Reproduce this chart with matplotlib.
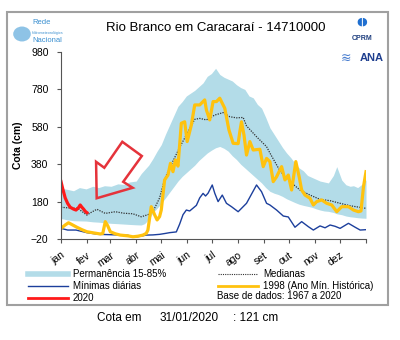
import matplotlib.pyplot as plt
from matplotlib.lines import Line2D
from matplotlib.patches import Polygon, Rectangle, Circle
import numpy as np

plt.rcParams['font.family'] = ['Liberation Sans', 'DejaVu Sans']

# ---- data (day of year, cota in cm) ----
band_days = [0, 8, 15, 22, 30, 38, 45, 52, 60, 68, 75, 82, 90, 96, 100, 105, 110, 115,
             120, 125, 130, 135, 140, 145, 150, 155, 160, 165, 170, 175, 180, 185, 190,
             195, 200, 205, 210, 215, 220, 225, 230, 235, 240, 245, 250, 255, 260, 265,
             270, 275, 280, 285, 290, 295, 300, 305, 310, 315, 320, 326, 330, 336, 341,
             346, 350, 355, 360, 365]
band_high = [252, 245, 238, 255, 248, 262, 255, 265, 262, 275, 272, 285, 290, 330, 350, 375,
             410, 450, 485, 540, 590, 640, 690, 715, 745, 760, 775, 795, 815, 850, 865, 893,
             860, 845, 835, 825, 805, 790, 780, 745, 735, 700, 680, 630, 575, 540, 505, 470,
             440, 415, 385, 360, 345, 320, 310, 300, 290, 285, 280, 320, 367, 295, 270,
             262, 265, 255, 272, 296]
band_low = [90, 82, 78, 77, 76, 72, 70, 67, 64, 62, 60, 58, 56, 55, 62, 85, 120, 145,
            170, 200, 230, 260, 290, 315, 335, 355, 375, 400, 420, 440, 455, 468, 475,
            465, 450, 425, 405, 380, 360, 340, 320, 300, 280, 255, 235, 225, 218, 208,
            195, 185, 175, 166, 160, 155, 150, 142, 135, 130, 128, 122, 115, 110, 103,
            99, 97, 94, 92, 91]

med_days = [0, 10, 20, 31, 37, 43, 53, 65, 75, 86, 96, 104, 110, 118, 124, 130, 142, 154,
            160, 166, 174, 184, 194, 202, 210, 218, 222, 234, 246, 250, 262, 274, 286,
            298, 310, 322, 334, 346, 365]
med_vals = [150, 146, 144, 108, 125, 139, 117, 126, 118, 115, 99, 110, 126, 200, 300, 360,
            470, 570, 620, 625, 617, 643, 656, 634, 628, 630, 585, 527, 474, 440, 345, 287,
            242, 215, 192, 185, 171, 158, 144]

min_days = [0, 8, 18, 31, 45, 60, 73, 80, 88, 95, 102, 110, 118, 125, 130, 138, 142, 146,
            150, 154, 158, 162, 166, 170, 173, 176, 181, 184, 188, 193, 198, 204, 212, 222,
            234, 240, 246, 250, 258, 266, 272, 280, 288, 296, 302, 310, 316, 322, 328, 334,
            344, 352, 358, 365]
min_vals = [37, 28, 28, 14, 5, 3, 1, 0, -11, -5, 1, 2, 5, 10, 14, 18, 60, 110,
            135, 130, 145, 160, 200, 224, 210, 225, 269, 225, 180, 215, 171, 153, 126, 171,
            269, 233, 171, 162, 135, 103, 98, 43, 73, 46, 28, 50, 40, 55, 48, 37,
            64, 43, 28, 30]

y98_days = [0, 5, 9, 14, 19, 25, 31, 40, 47, 50, 53, 56, 59, 65, 71, 80, 86, 92, 98, 102,
            104, 108, 112, 115, 118, 120, 124, 128, 131, 134, 137, 140, 144, 148, 151, 156,
            160, 166, 172, 174, 178, 182, 186, 190, 196, 201, 206, 212, 214, 216, 219, 222,
            226, 230, 238, 242, 246, 250, 254, 258, 264, 268, 272, 276, 281, 285, 288, 292,
            298, 302, 306, 312, 318, 324, 330, 336, 344, 350, 356, 359, 362, 365]
y98_vals = [37, 55, 67, 55, 43, 30, 19, 12, 7, 10, 73, 50, 19, 8, 1, -3, -8, -5, 1, 10,
            28, 153, 110, 82, 100, 135, 296, 322, 385, 340, 403, 370, 599, 607, 501, 590,
            697, 697, 724, 670, 617, 715, 715, 733, 679, 563, 492, 490, 554, 607, 536, 429,
            501, 456, 460, 367, 411, 394, 287, 313, 367, 296, 322, 242, 394, 313, 242, 215,
            198, 162, 180, 189, 171, 162, 126, 153, 153, 135, 126, 130, 260, 340]

y20_days = [0, 2, 5, 8, 11, 15, 18, 21, 23, 25, 27, 29, 31]
y20_vals = [287, 250, 200, 170, 150, 140, 135, 148, 162, 150, 140, 128, 121]

month_starts = [0, 31, 59, 90, 120, 151, 181, 212, 243, 273, 304, 334]
month_labels = ['jan', 'fev', 'mar', 'abr', 'mai', 'jun', 'jul', 'ago', 'set', 'out', 'nov', 'dez']
y_ticks = [-20, 180, 380, 580, 780, 980]

BAND = '#b3dce8'
BLUE = '#1c3f9c'
YELLOW = '#ffc20e'
RED = '#ff1a1a'

fig = plt.figure(figsize=(4, 3.4), dpi=100)
ax = fig.add_axes([0.1525, 0.297, 0.7625, 0.55])

ax.fill_between(band_days, band_low, band_high, color=BAND, lw=0)
ax.plot(min_days, min_vals, color=BLUE, lw=1.0)
ax.plot(med_days, med_vals, color='#333333', lw=0.9, ls=(0, (1, 1)))
ax.plot(y98_days, y98_vals, color=YELLOW, lw=2.3)
ax.plot(y20_days, y20_vals, color=RED, lw=2.3)

# hollow red arrow pointing to the 2020 line
arrow = [(0.115, 0.413), (0.142, 0.381), (0.201, 0.520), (0.265, 0.444),
         (0.204, 0.306), (0.235, 0.274), (0.117, 0.218)]
ax.add_patch(Polygon(arrow, closed=True, transform=ax.transAxes, facecolor='none',
                     edgecolor='#e5333b', lw=1.8, joinstyle='miter'))

ax.set_xlim(0, 365)
ax.set_ylim(-20, 980)
ax.set_yticks(y_ticks)
ax.set_xticks(month_starts + [365])
ax.set_xticklabels(month_labels + [''], rotation=35, ha='right', rotation_mode='anchor',
                   fontsize=7.5)
ax.tick_params(axis='y', labelsize=7.5, length=3, pad=6, color='#555555')
ax.tick_params(axis='x', length=3, pad=5, color='#555555')
for s in ['top', 'right']:
    ax.spines[s].set_visible(False)
for s in ['left', 'bottom']:
    ax.spines[s].set_color('#555555')
    ax.spines[s].set_linewidth(0.8)
ax.set_ylabel('Cota (cm)', fontsize=7.5, fontweight='bold', labelpad=6)

# outer frame
fig.patches.append(Rectangle((0.0175, 0.103), 0.953, 0.862, transform=fig.transFigure,
                             fill=False, edgecolor='#a0a0a0', lw=1.5))

fig.text(0.54, 0.918, 'Rio Branco em Caracaraí - 14710000', ha='center', va='center',
         fontsize=9.5)

# logos (text approximations)
fig.patches.append(Circle((0.055, 0.9), 0.022, transform=fig.transFigure,
                          facecolor='#8ec3e6', edgecolor='none'))
fig.text(0.08, 0.935, 'Rede', fontsize=5.5, color='#3a8fd0', va='center')
fig.text(0.08, 0.904, 'Hidrometeorológica', fontsize=2.6, color='#3a8fd0', va='center')
fig.text(0.08, 0.88, 'Nacional', fontsize=5.5, color='#3a8fd0', va='center')
fig.text(0.905, 0.935, '◖◗', fontsize=8, color='#1f6fd0', ha='center', va='center',
         family=['DejaVu Sans'])
fig.text(0.905, 0.888, 'CPRM', fontsize=5, fontweight='bold', color='#1f3f7f',
         ha='center', va='center')
fig.text(0.93, 0.83, 'ANA', fontsize=8, fontweight='bold', color='#1f3f8f',
         ha='center', va='center')
fig.text(0.865, 0.83, '≋', fontsize=9, color='#4a7fd0', ha='center', va='center',
         family=['DejaVu Sans'])

# legend
rows = [0.194, 0.159, 0.124]
def handle(x0, y, **kw):
    fig.add_artist(Line2D([x0, x0 + 0.1], [y, y], transform=fig.transFigure, **kw))

handle(0.07, rows[0], color=BAND, lw=4)
handle(0.07, rows[1], color=BLUE, lw=1.0)
handle(0.07, rows[2], color=RED, lw=2.0)
handle(0.545, rows[0], color='#333333', lw=0.8, ls=(0, (1, 1)))
handle(0.545, rows[1], color=YELLOW, lw=2.0)
lkw = dict(fontsize=7, va='center')
fig.text(0.1825, rows[0], 'Permanência 15-85%', **lkw)
fig.text(0.1825, rows[1], 'Mínimas diárias', **lkw)
fig.text(0.1825, rows[2], '2020', **lkw)
fig.text(0.6575, rows[0], 'Medianas', **lkw)
fig.text(0.6575, rows[1], '1998 (Ano Mín. Histórica)', **lkw)
fig.text(0.5425, rows[2] + 0.004, 'Base de dados: 1967 a 2020', **lkw)

fig.text(0.2425, 0.065, 'Cota em', fontsize=8.5, va='center')
fig.text(0.4, 0.065, '31/01/2020', fontsize=8.5, va='center')
fig.text(0.5825, 0.065, f': {y20_vals[-1]} cm', fontsize=8.5, va='center')

fig.savefig('out.png', dpi=100)
